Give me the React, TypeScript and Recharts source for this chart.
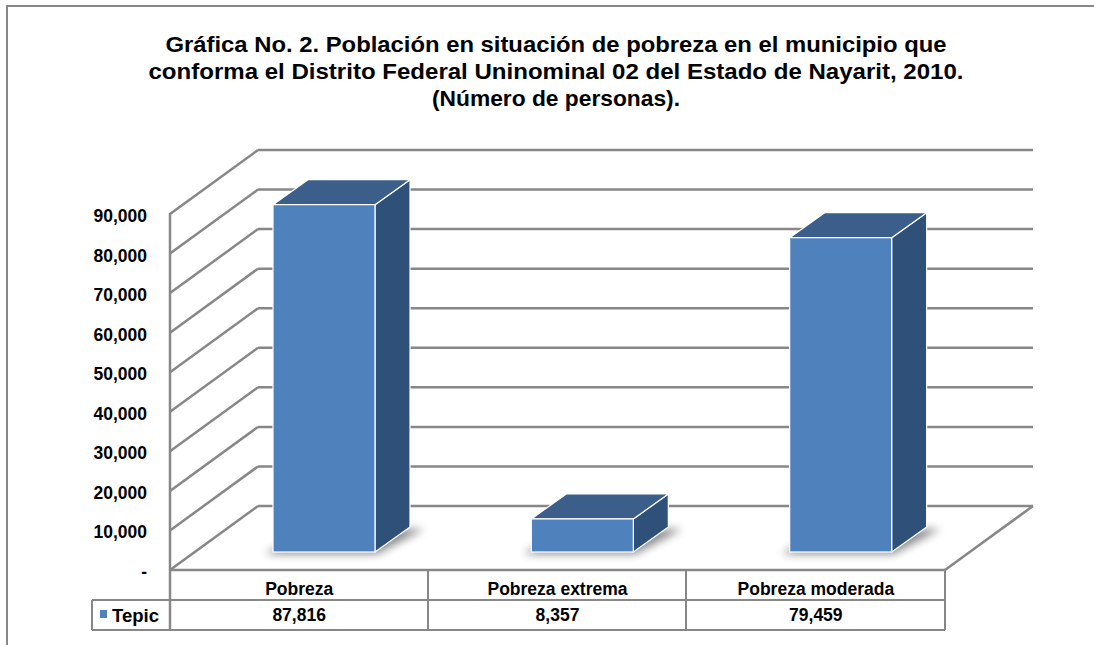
import { BarChart, Bar, XAxis, YAxis, CartesianGrid } from 'recharts';

const categories = ['Pobreza', 'Pobreza extrema', 'Pobreza moderada'];
const tepicValues = [87816, 8357, 79459];
const seriesName = 'Tepic';
const yTicks = [0, 10000, 20000, 30000, 40000, 50000, 60000, 70000, 80000, 90000];
const titleLines = [
  'Gráfica No. 2. Población en situación de pobreza en el municipio que',
  'conforma el Distrito Federal Uninominal 02 del Estado de Nayarit, 2010.',
  '(Número de personas).',
];
const titleWidths = [781, 815, 248];

const data = categories.map((c, i) => ({ category: c, value: tepicValues[i] }));

const FONT = '"Liberation Sans", Arial, sans-serif';
const GRID = '#878787';
const FRONT = '#4F81BD';
const TOP = '#3B5F8A';
const SIDE = '#2F5078';

// offsets from the bar plane (recharts plot) to the front and back planes
const FRONT_DX = -25;
const FRONT_DY = 18;
const BACK_DX = 63;
const BACK_DY = -46;
// depth of each column
const DEPTH_X = 35;
const DEPTH_Y = -25;

const fmt = (v: number) => (v === 0 ? '-' : v.toLocaleString('en-US'));

function GridLine(props: any) {
  const { x1, x2, y1, index } = props;
  const stroke = { stroke: GRID, strokeWidth: 2.5, fill: 'none' };
  return (
    <g key={`grid-${index}`}>
      <line x1={x1 + FRONT_DX} y1={y1 + FRONT_DY} x2={x1 + BACK_DX} y2={y1 + BACK_DY} {...stroke} />
      <line x1={x1 + BACK_DX} y1={y1 + BACK_DY} x2={x2 + BACK_DX} y2={y1 + BACK_DY} {...stroke} />
    </g>
  );
}

function YTick(props: any) {
  const { y, payload } = props;
  return (
    <text x={147} y={y + FRONT_DY + 2} textAnchor="end" dominantBaseline="central"
      fontFamily={FONT} fontWeight="bold" fontSize={17.5} fill="#000">
      {fmt(payload.value)}
    </text>
  );
}

function XTick(props: any) {
  const { x, payload, index } = props;
  const cx = x + FRONT_DX;
  return (
    <g>
      <text x={cx} y={589} textAnchor="middle" dominantBaseline="central"
        fontFamily={FONT} fontWeight="bold" fontSize={17.5} fill="#000">
        {payload.value}
      </text>
      <text x={cx} y={615} textAnchor="middle" dominantBaseline="central"
        fontFamily={FONT} fontWeight="bold" fontSize={17.5} fill="#000">
        {tepicValues[index].toLocaleString('en-US')}
      </text>
    </g>
  );
}

function Column3D(props: any) {
  const { x, y, width, height, index } = props;
  const bottom = y + height;
  const right = x + width;
  const id = `blur-${index}`;
  const shadow = [
    [x - 8, bottom + 2],
    [right + 2, bottom + 2],
    [right + DEPTH_X + 14, bottom + DEPTH_Y + 2],
    [x + DEPTH_X, bottom + DEPTH_Y + 2],
  ].map((p) => p.join(',')).join(' ');
  const top = `${x},${y} ${right},${y} ${right + DEPTH_X},${y + DEPTH_Y} ${x + DEPTH_X},${y + DEPTH_Y}`;
  const side = `${right},${y} ${right + DEPTH_X},${y + DEPTH_Y} ${right + DEPTH_X},${bottom + DEPTH_Y} ${right},${bottom}`;
  return (
    <g>
      <defs>
        <filter id={id} x="-30%" y="-100%" width="160%" height="300%">
          <feGaussianBlur stdDeviation="4" />
        </filter>
      </defs>
      <polygon points={shadow} fill="#000" opacity={0.45} filter={`url(#${id})`} />
      <polygon points={side} fill={SIDE} stroke="#fff" strokeWidth={1.2} strokeLinejoin="round" />
      <polygon points={top} fill={TOP} stroke="#fff" strokeWidth={1.2} strokeLinejoin="round" />
      <rect x={x} y={y} width={width} height={height} fill={FRONT} stroke="#fff" strokeWidth={1.2} />
    </g>
  );
}

function Frame() {
  const line = { stroke: GRID, strokeWidth: 2, fill: 'none' };
  return (
    <svg width={1094} height={645} style={{ position: 'absolute', left: 0, top: 0 }}>
      <line x1={7} y1={6} x2={1094} y2={6} {...line} />
      <line x1={7} y1={5} x2={7} y2={645} {...line} />
      {titleLines.map((t, i) => (
        <text key={i} x={556} y={44 + i * 27} textAnchor="middle" dominantBaseline="central"
          fontFamily={FONT} fontWeight="bold" fontSize={22} fill="#000"
          textLength={titleWidths[i]} lengthAdjust="spacingAndGlyphs">
          {t}
        </text>
      ))}
      {/* wall edge, floor edge and data table */}
      <line x1={170} y1={213} x2={170} y2={631} {...line} strokeWidth={2.5} />
      <line x1={945} y1={570} x2={1033} y2={506} {...line} strokeWidth={2.5} />
      <line x1={170} y1={570} x2={945} y2={570} {...line} strokeWidth={2.5} />
      <line x1={92} y1={600} x2={945} y2={600} {...line} />
      <line x1={92} y1={630} x2={945} y2={630} {...line} />
      <line x1={92} y1={600} x2={92} y2={630} {...line} />
      <line x1={428} y1={570} x2={428} y2={630} {...line} />
      <line x1={686} y1={570} x2={686} y2={630} {...line} />
      <line x1={945} y1={570} x2={945} y2={630} {...line} />
      <rect x={100} y={610} width={7} height={8} fill={FRONT} />
      <text x={112} y={615} dominantBaseline="central" fontFamily={FONT} fontWeight="bold" fontSize={18.5} fill="#000">
        {seriesName}
      </text>
    </svg>
  );
}

export default function App() {
  return (
    <div style={{ position: 'absolute', left: 0, top: 0, width: 1094, height: 645, background: '#fff' }}>
      <Frame />
      <div style={{ position: 'absolute', left: 0, top: 0 }}>
        <BarChart width={1094} height={645} data={data} barSize={102}
          margin={{ top: 196, right: 124, bottom: 53, left: 135 }}>
          <CartesianGrid vertical={false} horizontal={(p: any) => <GridLine {...p} />} />
          <XAxis dataKey="category" height={40} axisLine={false} tickLine={false} tick={<XTick />} interval={0} />
          <YAxis domain={[0, 90000]} ticks={yTicks} width={60} axisLine={false} tickLine={false} tick={<YTick />} interval={0} />
          <Bar dataKey="value" name={seriesName} shape={<Column3D />} isAnimationActive={false} />
        </BarChart>
      </div>
    </div>
  );
}
